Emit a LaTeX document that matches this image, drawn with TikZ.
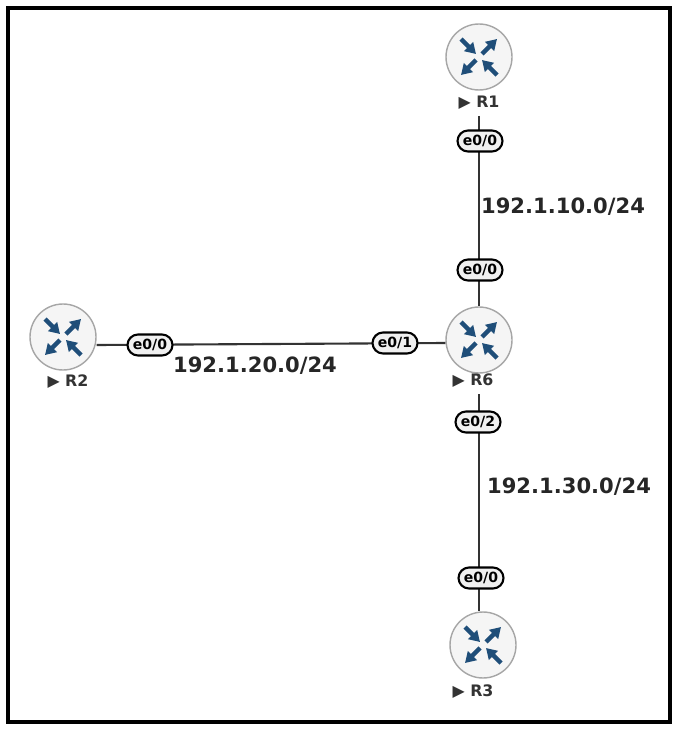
\documentclass[tikz,border=0pt]{standalone}
\usepackage{fontspec}
\setmainfont{DejaVu Sans}
\usetikzlibrary{arrows.meta}
\definecolor{iconblue}{HTML}{1F4E79}
\begin{document}
\begin{tikzpicture}[
    x=0.02cm, y=-0.02cm,
    every node/.style={font=\bfseries},
    router/.style={circle, draw=gray!70, fill=gray!8, line width=0.8pt, minimum size=1.32cm, inner sep=0pt},
    rname/.style={font=\small\bfseries, text=black!80},
    port/.style={rectangle, rounded corners=6pt, draw=black, line width=1.2pt, fill=gray!12, font=\footnotesize\bfseries, inner sep=2pt, minimum height=0.42cm, minimum width=0.9cm},
    netlabel/.style={font=\large\bfseries, text=black!85},
    link/.style={line width=1.2pt, draw=black!80},
    icon/.style={-{Triangle[length=6pt,width=7pt]}, line width=2.6pt, draw=iconblue}
  ]
  \useasboundingbox (0,0) rectangle (675,729);
  \draw[line width=1.8pt] (8,8) rectangle (670,722);
  % routers
  \foreach \n/\x/\y in {R1/479/57, R6/479/340, R2/63/337, R3/483/645} {
    \node[router] (\n) at (\x,\y) {};
    \draw[icon] (\x-18,\y-18) -- (\x-3,\y-3);
    \draw[icon] (\x+18,\y+18) -- (\x+3,\y+3);
    \draw[icon] (\x+3,\y-3) -- (\x+18,\y-18);
    \draw[icon] (\x-3,\y+3) -- (\x-18,\y+18);
  }
  % names
  \node[rname] (n1) at (479,103) {▶ R1};
  \node[rname] (n6) at (473,381) {▶ R6};
  \node[rname] (n2) at (68,382) {▶ R2};
  \node[rname] (n3) at (473,692) {▶ R3};
  % links
  \draw[link] (n1.south -| R1) -- (R6);
  \draw[link] (R2.east |- 0,345) -- (R6.west |- 0,343);
  \draw[link] (n6.south -| R6) -- (R3.north -| R6);
  % ports
  \node[port] (p1) at (480,141) {e0/0};
  \node[port] (p6a) at (480,270) {e0/0};
  \node[port] (p6b) at (395,343) {e0/1};
  \node[port] (p6c) at (478,422) {e0/2};
  \node[port] (p3) at (481,578) {e0/0};
  \node[port] (p2) at (150,345) {e0/0};
  % networks
  \node[netlabel] (net10) at (563,207) {192.1.10.0/24};
  \node[netlabel] (net20) at (255,366) {192.1.20.0/24};
  \node[netlabel] (net30) at (569,487) {192.1.30.0/24};
\end{tikzpicture}
\end{document}
